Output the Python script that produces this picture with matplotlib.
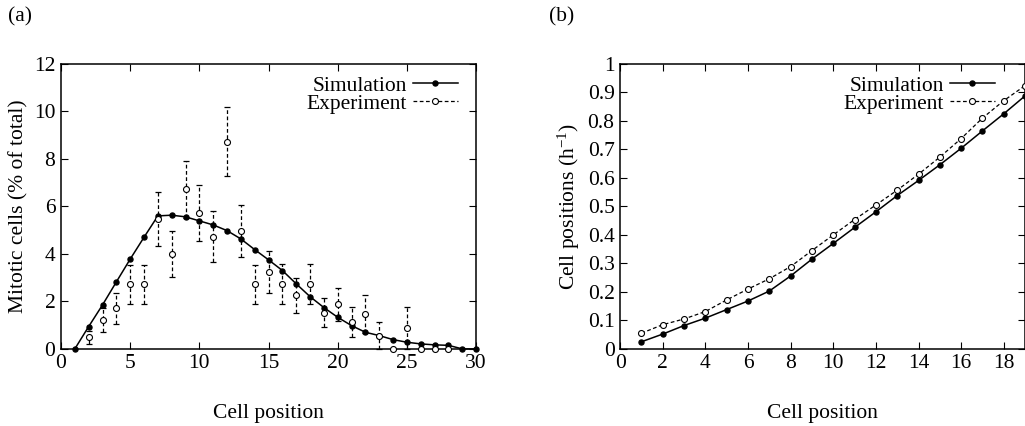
import matplotlib
matplotlib.use("Agg")
import matplotlib.pyplot as plt
from matplotlib.lines import Line2D
import numpy as np

plt.rcParams['font.family'] = ['Liberation Serif', 'DejaVu Serif']
plt.rcParams['mathtext.fontset'] = 'custom'
plt.rcParams['mathtext.rm'] = 'Liberation Serif'
plt.rcParams['mathtext.it'] = 'Liberation Serif:italic'

# panel (a): mitotic cells along the crypt
sim_a_x = list(range(1, 31))
sim_a_y = [0.0, 0.94, 1.85, 2.82, 3.78, 4.70, 5.60, 5.63, 5.56, 5.39,
           5.22, 4.98, 4.63, 4.18, 3.75, 3.30, 2.74, 2.20, 1.74, 1.33,
           0.98, 0.70, 0.56, 0.39, 0.28, 0.21, 0.17, 0.15, 0.0, 0.0]
exp_a_x = list(range(2, 29))
exp_a_y = [0.48, 1.22, 1.71, 2.72, 2.72, 5.47, 3.99, 6.72, 5.73, 4.72,
           8.73, 4.97, 2.72, 3.23, 2.74, 2.25, 2.74, 1.53, 1.88, 1.12,
           1.47, 0.56, 0.0, 0.87, 0.0, 0.0, 0.0]
exp_a_err = [0.28, 0.52, 0.66, 0.82, 0.82, 1.13, 0.98, 1.20, 1.18, 1.07,
             1.44, 1.10, 0.82, 0.89, 0.83, 0.75, 0.83, 0.62, 0.70, 0.64,
             0.80, 0.58, 0.0, 0.88, 0.0, 0.0, 0.0]

# panel (b): cell velocities
sim_b_x = list(range(1, 20))
sim_b_y = [0.025, 0.052, 0.082, 0.108, 0.138, 0.168, 0.203, 0.256, 0.315, 0.370,
           0.426, 0.481, 0.538, 0.591, 0.646, 0.704, 0.765, 0.825, 0.888]
exp_b_x = list(range(1, 20))
exp_b_y = [0.055, 0.085, 0.105, 0.131, 0.172, 0.210, 0.246, 0.289, 0.345, 0.400,
           0.454, 0.505, 0.557, 0.613, 0.673, 0.738, 0.810, 0.871, 0.924]

fig = plt.figure(figsize=(10.25, 4.26), dpi=100)
ax1 = fig.add_axes([0.0595, 0.181, 0.405, 0.669])
ax2 = fig.add_axes([0.605, 0.181, 0.3951, 0.669])

fs = 15.5
sim_style = dict(color='black', lw=1.1, marker='o', ms=3.6)
exp_marker = dict(marker='o', ms=4.3, mfc='white', mec='black', mew=0.8)

# (a)
ax1.plot(sim_a_x, sim_a_y, zorder=3, **sim_style)
eb = ax1.errorbar(exp_a_x, exp_a_y, yerr=exp_a_err, fmt='none', ecolor='black',
                  elinewidth=0.9, capsize=2, capthick=0.9, zorder=2)
eb[2][0].set_linestyle((0, (3, 2)))
ax1.plot(exp_a_x, exp_a_y, ls='none', zorder=4, **exp_marker)
ax1.set_xlim(0, 30)
ax1.set_ylim(0, 12)
ax1.set_xticks(np.arange(0, 31, 5))
ax1.set_yticks(np.arange(0, 13, 2))
ax1.set_xlabel('Cell position', fontsize=fs, labelpad=22)
ax1.set_ylabel('Mitotic cells (% of total)', fontsize=fs, labelpad=4)
h1 = [Line2D([], [], **sim_style),
      Line2D([], [], color='black', lw=0.9, ls=(0, (3, 2)), **exp_marker)]
ax1.legend(h1, ['Simulation', 'Experiment'], loc='upper right', frameon=False,
           markerfirst=False, fontsize=fs, handlelength=2.1, handletextpad=0.28,
           labelspacing=-0.1, borderaxespad=0.15, bbox_to_anchor=(0.985, 1.0))

# (b)
ax2.plot(sim_b_x, sim_b_y, zorder=3, **sim_style)
ax2.plot(exp_b_x, exp_b_y, color='black', lw=0.9, ls=(0, (3, 2)), zorder=4,
         **exp_marker)
ax2.set_xlim(0, 19)
ax2.set_ylim(0, 1)
ax2.set_xticks(np.arange(0, 19, 2))
ax2.set_yticks(np.round(np.arange(0, 1.01, 0.1), 1))
ax2.set_yticklabels(['0'] + ['%.1f' % v for v in np.arange(0.1, 0.95, 0.1)] + ['1'])
ax2.set_xlabel('Cell position', fontsize=fs, labelpad=22)
ax2.set_ylabel('Cell positions (h$^{-1}$)', fontsize=fs, labelpad=4)
h2 = [Line2D([], [], **sim_style),
      Line2D([], [], color='black', lw=0.9, ls=(0, (3, 2)), **exp_marker)]
ax2.legend(h2, ['Simulation', 'Experiment'], loc='upper right', frameon=False,
           markerfirst=False, fontsize=fs, handlelength=2.1, handletextpad=0.28,
           labelspacing=-0.1, borderaxespad=0.15, bbox_to_anchor=(0.955, 1.0))

for ax in (ax1, ax2):
    ax.tick_params(direction='in', top=True, right=True, length=5, width=0.8,
                   labelsize=fs, pad=4)
    for s in ax.spines.values():
        s.set_linewidth(1.1)

fig.text(0.008, 0.96, '(a)', fontsize=fs, va='center', ha='left')
fig.text(0.536, 0.96, '(b)', fontsize=fs, va='center', ha='left')

for line in ax1.lines + ax2.lines:
    line.set_clip_on(False)

fig.savefig('out.png', dpi=100)
